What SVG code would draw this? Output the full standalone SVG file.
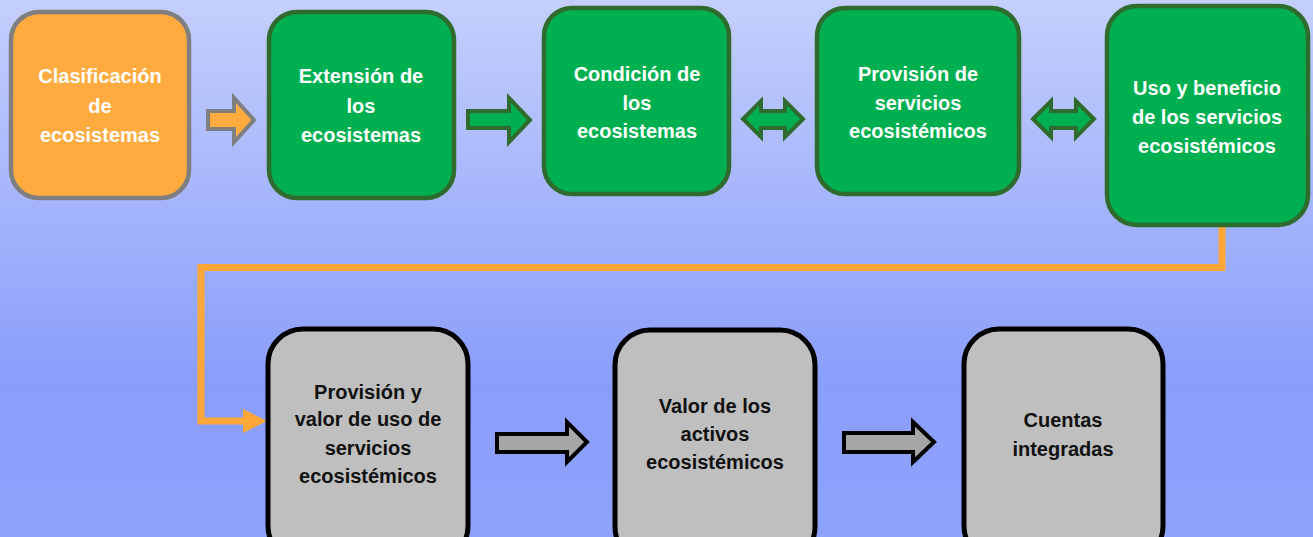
<svg xmlns="http://www.w3.org/2000/svg" width="1313" height="537" viewBox="0 0 1313 537">
  <defs>
    <linearGradient id="bg" x1="0" y1="0" x2="0" y2="1">
      <stop offset="0" stop-color="#C4CFFC"/>
      <stop offset="0.72" stop-color="#899DFB"/>
      <stop offset="1" stop-color="#8FA3FC"/>
    </linearGradient>
  </defs>
  <style>
    .t { font-family: "Liberation Sans", Arial, sans-serif; font-weight: bold; font-size: 20px; text-anchor: middle; }
    .w { fill: #FFFFFF; }
    .k { fill: #111111; }
    .orange { fill: #FFAB40; stroke: #7F7F7F; stroke-width: 4.5; }
    .green { fill: #00B050; stroke: #2F6B2C; stroke-width: 4.5; }
    .gray { fill: #BFBFBF; stroke: #000000; stroke-width: 5; }
    .garrow { fill: #00B050; stroke: #2F6B2C; stroke-width: 4; stroke-linejoin: miter; }
    .oarrow { fill: #FFAB40; stroke: #7F7F7F; stroke-width: 4; }
    .karrow { fill: #A6A6A6; stroke: #000000; stroke-width: 4; }
    .conn { fill: none; stroke: #FFA838; stroke-width: 7; stroke-linejoin: miter; }
  </style>
  <rect x="0" y="0" width="1313" height="537" fill="url(#bg)"/>

  <g id="connectors">
    <path class="oarrow" d="M208,111 H234 V98 L254,120 L234,142 V129 H208 Z"/>
    <path class="garrow" d="M468,111 H509 V98 L530,120 L509,142 V128 H468 Z"/>
    <path class="garrow" d="M743,119 L761,101 V111 H785 V101 L803,119 L785,137 V128 H761 V137 Z"/>
    <path class="garrow" d="M1033,119 L1051,101 V111 H1076 V101 L1094,119 L1076,137 V128 H1051 V137 Z"/>
    <path class="conn" d="M1222,226 V267.5 H201 V421 H246"/>
    <polygon points="243,409 267,421 243,433" fill="#FFA838"/>
    <path class="karrow" d="M497,434 H567 V422 L587,442 L567,462 V452 H497 Z"/>
    <path class="karrow" d="M844,433 H913 V422 L934,442 L913,462 V452 H844 Z"/>
  </g>

  <g id="clasificacion">
    <rect class="orange" x="11" y="12" width="178" height="186" rx="28"/>
    <text class="t w" x="100" y="83">Clasificación</text>
    <text class="t w" x="100" y="113">de</text>
    <text class="t w" x="100" y="142">ecosistemas</text>
  </g>
  <g id="extension">
    <rect class="green" x="269" y="12" width="185" height="186" rx="28"/>
    <text class="t w" x="361" y="83">Extensión de</text>
    <text class="t w" x="361" y="113">los</text>
    <text class="t w" x="361" y="142">ecosistemas</text>
  </g>
  <g id="condicion">
    <rect class="green" x="544" y="8" width="185" height="186" rx="28"/>
    <text class="t w" x="637" y="81">Condición de</text>
    <text class="t w" x="637" y="110">los</text>
    <text class="t w" x="637" y="138">ecosistemas</text>
  </g>
  <g id="provision">
    <rect class="green" x="817" y="8" width="202" height="186" rx="28"/>
    <text class="t w" x="918" y="81">Provisión de</text>
    <text class="t w" x="918" y="110">servicios</text>
    <text class="t w" x="918" y="138">ecosistémicos</text>
  </g>
  <g id="uso">
    <rect class="green" x="1107" y="6" width="201" height="219" rx="30"/>
    <text class="t w" x="1207" y="95">Uso y beneficio</text>
    <text class="t w" x="1207" y="124">de los servicios</text>
    <text class="t w" x="1207" y="153">ecosistémicos</text>
  </g>
  <g id="provision-valor">
    <rect class="gray" x="268" y="329" width="200" height="232" rx="35"/>
    <text class="t k" x="368" y="399">Provisión y</text>
    <text class="t k" x="368" y="426">valor de uso de</text>
    <text class="t k" x="368" y="455">servicios</text>
    <text class="t k" x="368" y="483">ecosistémicos</text>
  </g>
  <g id="valor-activos">
    <rect class="gray" x="615" y="330" width="200" height="232" rx="35"/>
    <text class="t k" x="715" y="413">Valor de los</text>
    <text class="t k" x="715" y="441">activos</text>
    <text class="t k" x="715" y="469">ecosistémicos</text>
  </g>
  <g id="cuentas">
    <rect class="gray" x="964" y="329" width="199" height="232" rx="35"/>
    <text class="t k" x="1063" y="427">Cuentas</text>
    <text class="t k" x="1063" y="456">integradas</text>
  </g>
</svg>
